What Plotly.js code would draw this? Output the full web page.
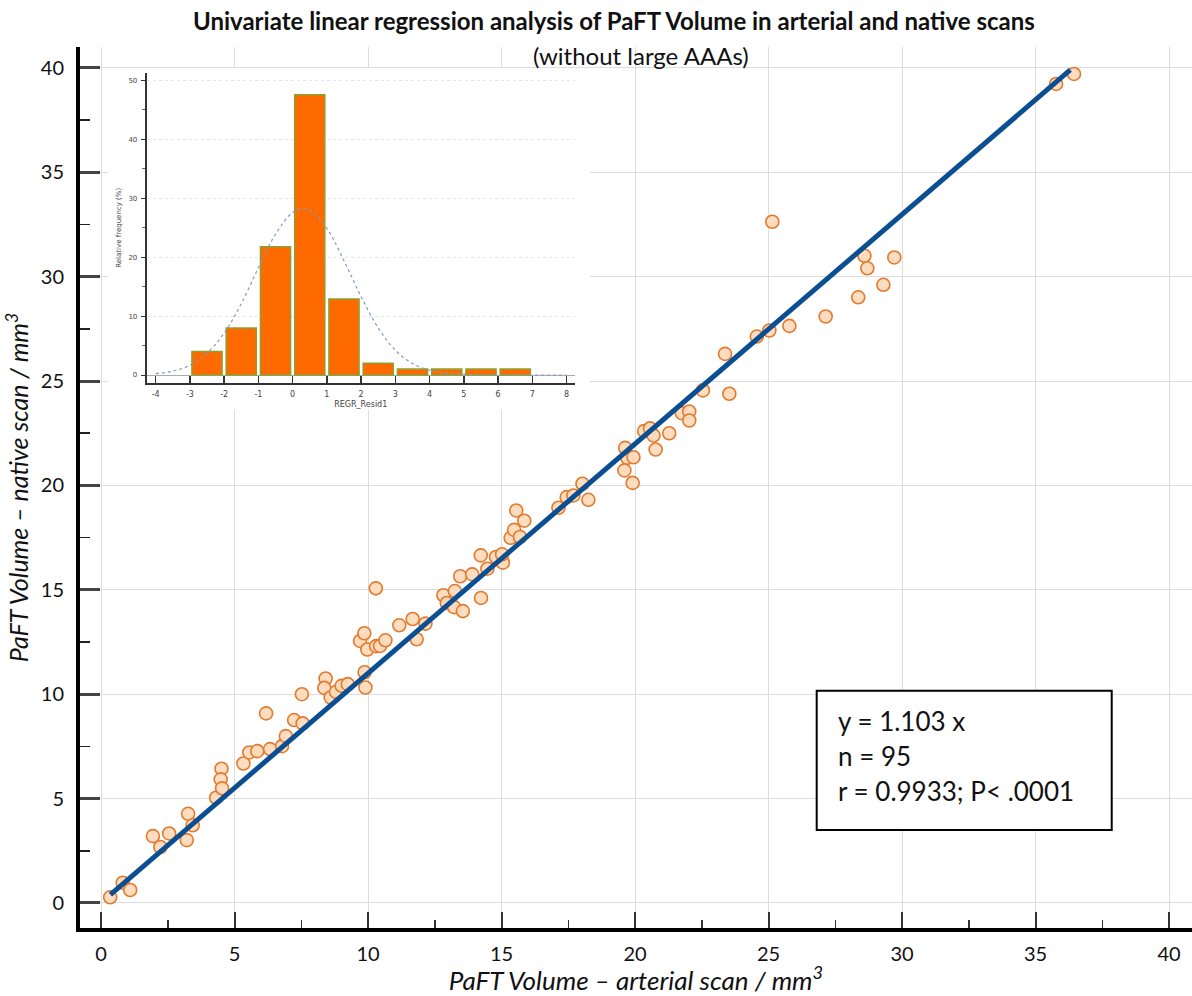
<!DOCTYPE html>
<html><head><meta charset="utf-8">
<script src="https://cdn.plot.ly/plotly-3.0.1.min.js"></script>
<style>html,body{margin:0;padding:0;background:#fff;}#chart{width:1192px;height:996px;}</style>
</head><body><div id="chart"></div>
<script>
// ---- main scatter: PaFT volume, arterial (x) vs native (y), mm^3 ----
const arterialX = [0.34,0.81,1.09,1.94,2.22,2.55,3.26,3.21,3.43,4.31,4.51,4.48,4.53,5.33,5.55,5.85,6.18,6.33,6.78,6.92,7.23,7.55,
  7.52,8.41,8.36,8.6,8.8,9.01,9.24,9.87,9.9,9.7,9.86,9.97,10.29,10.3,10.45,10.65,11.17,11.67,12.15,11.82,12.82,12.95,13.25,13.22,13.55,13.45,13.9,14.23,14.47,15.05,
  14.22,14.79,15.02,15.34,15.47,15.69,15.55,15.85,17.13,17.44,17.69,18.03,18.25,19.63,19.71,19.94,19.6,19.91,20.77,
  20.34,20.56,20.69,21.28,21.75,22.03,22.03,22.54,23.53,23.37,24.56,25.03,25.78,27.14,28.36,
  25.14,28.59,28.7,29.3,29.71,35.77,36.44];
const nativeY = [0.27,0.97,0.62,3.2,2.68,3.33,4.27,3.01,3.72,5.04,6.43,5.92,5.49,6.68,7.21,7.27,9.08,7.37,7.51,7.99,8.76,8.6,
  10.0,10.75,10.30,9.84,10.11,10.4,10.48,11.05,10.32,12.55,12.92,12.14,15.07,12.3,12.31,12.58,13.3,13.6,13.38,12.63,14.74,14.37,14.94,14.17,13.98,15.65,15.74,14.61,16.01,16.3,
  16.65,16.57,16.7,17.49,17.87,17.53,18.8,18.31,18.93,19.44,19.52,20.08,19.31,21.8,21.32,21.35,20.72,20.12,21.72,
  22.6,22.73,22.39,22.5,23.46,23.54,23.11,24.55,24.39,26.3,27.13,27.42,27.64,28.09,29.01,
  32.63,31.0,30.4,29.61,30.92,39.23,39.71];
// regression line endpoints
const fitX = [0.35, 36.3];
const fitY = [0.4, 39.9];
const mainTicks = [0,5,10,15,20,25,30,35,40];
const statsLines = ['y = 1.103 x', 'n = 95', 'r = 0.9933; P< .0001'];

// ---- inset: residual histogram ----
const residBinCenters = [-2.5,-1.5,-0.5,0.5,1.5,2.5,3.5,4.5,5.5,6.5];
const residPercent = [4.0,8.0,21.8,47.6,12.9,2.0,1.0,1.0,1.0,1.0];
const curveX = [-4,-3.5,-3,-2.5,-2,-1.5,-1,-0.5,0,0.3,0.5,1,1.5,2,2.5,3,3.5,4,4.5,5,5.5,6,6.5,7,7.5,8];
const curveY = [0.25,0.65,1.65,3.7,7.1,12.1,18.2,23.9,27.6,28.3,28.0,24.9,19.4,13.3,8.0,4.2,1.95,0.8,0.3,0.1,0.03,0,0,0,0,0];
const insetXTicks = [-4,-3,-2,-1,0,1,2,3,4,5,6,7,8];
const insetYTicks = [0,10,20,30,40,50];

const FONT = 'Lato, "Open Sans", sans-serif';
const SMALL = '"DejaVu Sans", sans-serif';

const traces = [
  {type:'scatter', mode:'markers', x:arterialX, y:nativeY, xaxis:'x', yaxis:'y',
   marker:{size:13, color:'rgba(253,218,188,0.95)', line:{color:'#e27a2e', width:1.6}},
   hoverinfo:'x+y', showlegend:false},
  {type:'scatter', mode:'lines', x:fitX, y:fitY, xaxis:'x', yaxis:'y',
   line:{color:'#0b4e92', width:5}, hoverinfo:'skip', showlegend:false},
  {type:'bar', x:residBinCenters, y:residPercent, xaxis:'x3', yaxis:'y3', width:0.88,
   marker:{color:'#ff6a00', line:{color:'#8f9e2e', width:1.5}}, showlegend:false},
  {type:'scatter', mode:'lines', x:curveX, y:curveY, xaxis:'x3', yaxis:'y3',
   line:{color:'#7b9dc0', width:1.2, dash:'dot', shape:'spline'}, hoverinfo:'skip', showlegend:false}
];

// plot area: x 80..1192 px, y 47..928 px
const layout = {
  width:1192, height:996,
  margin:{l:80, r:0, t:47, b:68},
  paper_bgcolor:'#fff', plot_bgcolor:'#fff',
  font:{family:FONT, color:'#111'},
  showlegend:false,
  xaxis:{
    domain:[0,1], range:[-0.79, 40.86], anchor:'y',
    tickvals:mainTicks, ticktext:mainTicks.map(String),
    ticks:'inside', ticklen:16, tickwidth:2, tickcolor:'#333',
    minor:{ticks:'inside', ticklen:8, tickwidth:1.5, tickcolor:'#333', dtick:2.5, tick0:0, showgrid:false},
    showline:true, linecolor:'#000', linewidth:4,
    showgrid:true, gridcolor:'#dddddd', gridwidth:1, zeroline:false,
    tickfont:{size:20, color:'#111'}, ticklabelstandoff:5,
    title:{text:'<i>PaFT Volume – arterial scan / mm<sup>3</sup></i>', font:{size:26, color:'#111'}, standoff:2}
  },
  yaxis:{
    domain:[0,1], range:[-1.2, 41], anchor:'x',
    tickvals:mainTicks, ticktext:mainTicks.map(String),
    ticks:'inside', ticklen:20, tickwidth:3, tickcolor:'#444',
    minor:{ticks:'inside', ticklen:10, tickwidth:1.5, tickcolor:'#222', dtick:2.5, tick0:0, showgrid:false},
    showline:true, linecolor:'#000', linewidth:4,
    showgrid:true, gridcolor:'#dddddd', gridwidth:1, zeroline:false,
    tickfont:{size:20, color:'#111'}, ticklabelstandoff:8,
    title:{text:'<i>PaFT Volume – native scan / mm<sup>3</sup></i>', font:{size:25, color:'#111'}, standoff:6}
  },
  // white backing panel for the inset (drawn above the main subplot)
  xaxis2:{domain:[0.0252, 0.4586], range:[0,1], anchor:'y2', visible:false, fixedrange:true},
  yaxis2:{domain:[0.588, 0.976], range:[0,1], anchor:'x2', visible:false, fixedrange:true},
  // inset histogram axes
  xaxis3:{
    domain:[0.060, 0.445], range:[-4.26, 8.24], anchor:'y3',
    tickvals:insetXTicks, ticktext:insetXTicks.map(String),
    ticks:'inside', ticklen:7, tickwidth:1.5, tickcolor:'#333',
    showline:true, linecolor:'#333', linewidth:2, showgrid:false, zeroline:false,
    tickfont:{size:8, color:'#444', family:SMALL}, ticklabelstandoff:2,
    title:{text:'REGR_Resid1', font:{size:8, color:'#444', family:SMALL}, standoff:4}
  },
  yaxis3:{
    domain:[0.6186, 0.971], range:[-1.36, 51.36], anchor:'x3',
    tickvals:insetYTicks, ticktext:insetYTicks.map(String),
    ticks:'outside', ticklen:4, tickwidth:1, tickcolor:'#333',
    minor:{ticks:'outside', ticklen:3, tickwidth:1, tickcolor:'#666', dtick:5, tick0:0, showgrid:false},
    showline:true, linecolor:'#333', linewidth:2,
    showgrid:true, gridcolor:'#e6e6e6', gridwidth:1, griddash:'dot',
    zeroline:true, zerolinecolor:'#aaa', zerolinewidth:1,
    tickfont:{size:7, color:'#444', family:SMALL}, ticklabelstandoff:2,
    title:{text:'Relative frequency (%)', font:{size:7, color:'#444', family:SMALL}, standoff:6}
  },
  shapes:[
    {type:'rect', xref:'x2', yref:'y2', x0:0, x1:1, y0:0, y1:1, layer:'below',
     fillcolor:'#ffffff', line:{width:0}},
    // stats box
    {type:'rect', xref:'paper', yref:'paper', x0:0.6625, x1:0.9278, y0:0.1112, y1:0.2693, layer:'above',
     fillcolor:'#ffffff', line:{color:'#000', width:2}}
  ],
  annotations:[
    {xref:'paper', yref:'paper', x:0.4802, y:1.0306, xanchor:'center', yanchor:'middle', showarrow:false,
     text:'<b>Univariate linear regression analysis of PaFT Volume in arterial and native scans</b>',
     font:{size:24, color:'#111', family:FONT}},
    {xref:'paper', yref:'paper', x:0.5045, y:0.990, xanchor:'center', yanchor:'middle', showarrow:false,
     text:'(without large AAAs)', font:{size:24, color:'#111', family:FONT}},
  ].concat(statsLines.map((t, i) => ({
     xref:'paper', yref:'paper', x:0.6800, y:0.2353 - i*0.0397, xanchor:'left', yanchor:'middle', showarrow:false,
     text:t, font:{size:26, color:'#111', family:FONT}})))
};

Plotly.newPlot('chart', traces, layout, {staticPlot:true, displayModeBar:false});
</script>
</body></html>
